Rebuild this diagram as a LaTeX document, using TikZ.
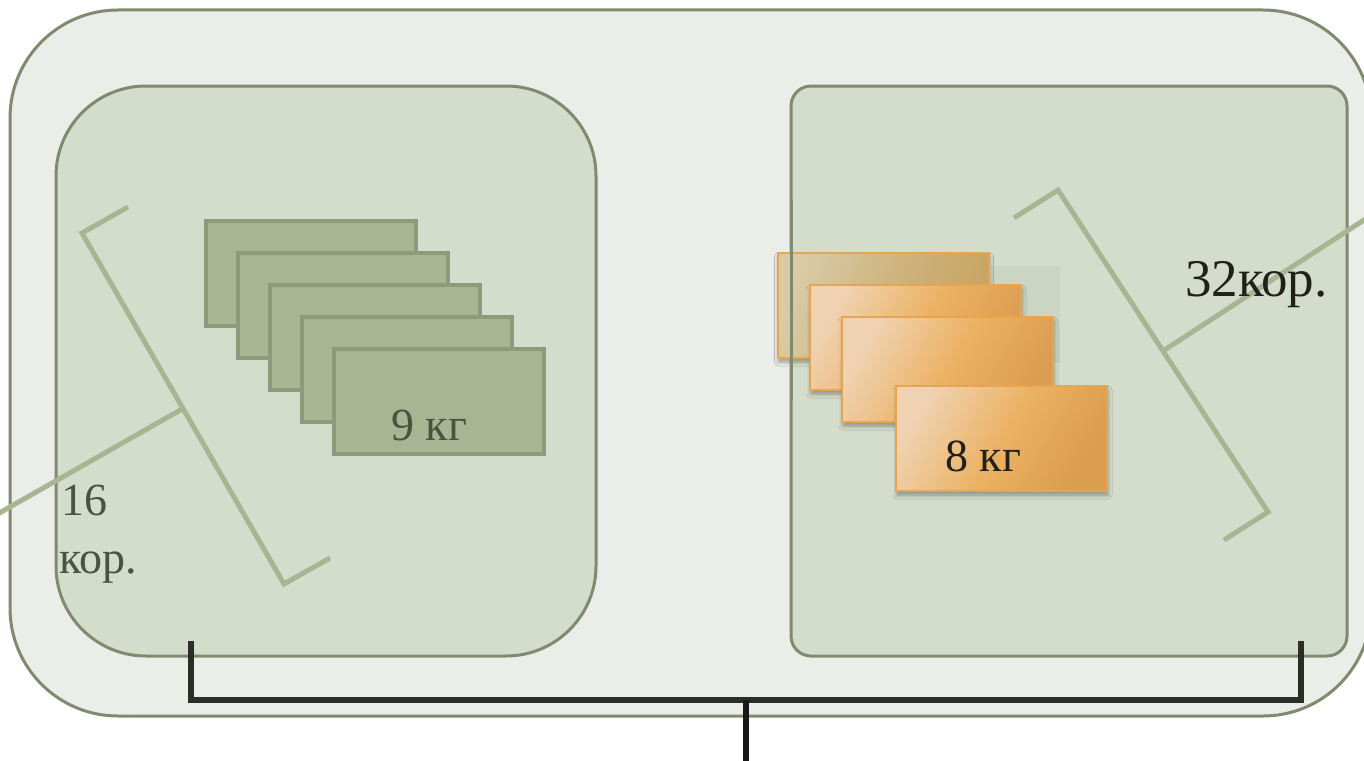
\documentclass[tikz,border=0pt]{standalone}
\usepackage{fontspec}
\setmainfont{Liberation Serif}
\usetikzlibrary{shadows,shadows.blur}
\definecolor{outerfill}{HTML}{EBEEE8}
\definecolor{boxline}{HTML}{7F8A6E}
\definecolor{innerfill}{HTML}{D4DDCB}
\definecolor{stackfill}{HTML}{A7B593}
\definecolor{stackline}{HTML}{8E9A79}
\definecolor{brk}{HTML}{A7B592}
\definecolor{txtgreen}{HTML}{4A5341}
\definecolor{txtdark}{HTML}{202219}
\definecolor{peach}{HTML}{EFD2B2}
\definecolor{orangemid}{HTML}{ECB264}
\definecolor{orangedark}{HTML}{DA9C4E}
\definecolor{orline}{HTML}{E9A54E}
\definecolor{tanlight}{HTML}{D9CBA6}
\definecolor{tandark}{HTML}{C7A463}
\definecolor{ghost}{HTML}{CBD5C2}
\definecolor{bline}{HTML}{2B2E27}
\tikzset{
  boxstyle/.style={draw=boxline, line width=3pt},
  greenbox/.style={draw=stackline, fill=stackfill, line width=4pt, inner sep=0pt, outer sep=0pt,
    minimum width=210pt, minimum height=105pt},
  orbox/.style={draw=orline, line width=2pt, inner sep=0pt, outer sep=0pt,
    minimum width=211pt, minimum height=105pt,
    left color=peach, right color=orangedark, middle color=orangemid, shading angle=60,
    blur shadow={shadow xshift=1pt, shadow yshift=-4pt, shadow blur radius=4pt, shadow opacity=35}},
  tanbox/.style={orbox, left color=tanlight, right color=tandark, middle color=tandark!60!tanlight, shading angle=70},
  brkline/.style={draw=brk, line width=5pt},
  bigtext/.style={font=\fontsize{46}{58}\selectfont, inner sep=0pt},
}
\begin{document}
\begin{tikzpicture}[x=1pt,y=-1pt]
\useasboundingbox (0,0) rectangle (1364,760);
\clip (0,0) rectangle (1364,760);
% outer container
\draw[boxstyle, fill=outerfill, rounded corners=108pt] (10,10) rectangle (1371,716);
% inner boxes
\draw[boxstyle, fill=innerfill, rounded corners=90pt] (56,86) rectangle (596,656);
\draw[boxstyle, fill=innerfill, rounded corners=20pt] (791,86) rectangle (1347,656);
% left stack
\node[greenbox] (L1) at (311,273) {};
\node[greenbox] (L2) at (343,305) {};
\node[greenbox] (L3) at (375,337) {};
\node[greenbox] (L4) at (407,369) {};
\node[greenbox] (L5) at (439,401) {};
\node[bigtext, text=txtgreen, anchor=base] (t9) at (429,440) {9 кг};
% right stack
\fill[ghost] (988,266) rectangle (1060,363);
\node[tanbox] (R1) at (883,305.5) {};
\draw[boxline, line width=3pt] (791,200) -- (791,400);
\node[orbox] (R2) at (915.5,337.5) {};
\node[orbox] (R3) at (947.5,369.5) {};
\node[orbox] (R4) at (1001.5,438.5) {};
\node[bigtext, text=txtdark, anchor=base] (t8) at (983,471) {8 кг};
% left bracket
\draw[brkline] (128,207) -- (82,233) -- (284,584) -- (330,558);
\draw[brkline] (183,408.5) -- (-20,524);
% right bracket
\draw[brkline] (1014,218) -- (1058,190) -- (1268,512) -- (1224,540);
\draw[brkline] (1163,351) -- (1380,209.5);
% labels
\node[bigtext, text=txtgreen, anchor=base west] (t16) at (61,515) {16};
\node[bigtext, text=txtgreen, anchor=base west] (tkor) at (59,573) {кор.};
\node[bigtext, text=txtdark, anchor=base west, font=\fontsize{53}{60}\selectfont] (t32) at (1185,296) {32кор.};
% bottom bracket
\coordinate (bl) at (191,641);
\coordinate (br) at (1301,641);
\coordinate (bm) at (746,700);
\coordinate (bs) at (746,770);
\draw[bline, line width=6.5pt] (bl) |- (br |- bm) -- (br);
\draw[black!90, line width=5.5pt] (bm) -- (bs);
\end{tikzpicture}
\end{document}
